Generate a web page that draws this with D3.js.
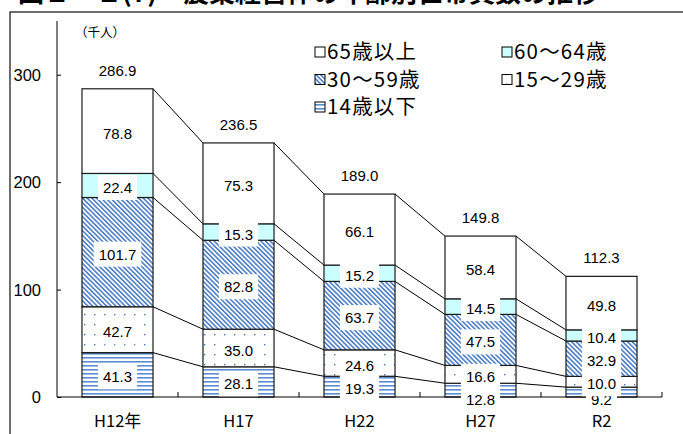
<!DOCTYPE html>
<html>
<head>
<meta charset="utf-8">
<script src="https://cdn.jsdelivr.net/npm/d3@7"></script>
<style>
  body { margin: 0; background: #fff; }
  svg { display: block; }
  .num { font-family: "Liberation Sans", Arial, sans-serif; fill: #000; }
  .jp { font-family: "Noto Sans CJK JP", "Noto Sans", sans-serif; fill: #000; }
</style>
</head>
<body>
<svg id="chart" width="683" height="434"></svg>
<script>
// 年齢別世帯員数（千人）
const years = ['H12年', 'H17', 'H22', 'H27', 'R2'];
const age65over = [78.8, 75.3, 66.1, 58.4, 49.8];
const age60to64 = [22.4, 15.3, 15.2, 14.5, 10.4];
const age30to59 = [101.7, 82.8, 63.7, 47.5, 32.9];
const age15to29 = [42.7, 35.0, 24.6, 16.6, 10.0];
const age14under = [41.3, 28.1, 19.3, 12.8, 9.2];
const totals = [286.9, 236.5, 189.0, 149.8, 112.3];
const yTicks = [0, 100, 200, 300];
const seriesNames = ['14歳以下', '15～29歳', '30～59歳', '60～64歳', '65歳以上'];
const unitLabel = '（千人）';
const title = '図２－１(7)　農業経営体の年齢別世帯員数の推移';

const svg = d3.select('#chart');
const cs = {
  plot: { left: 57, right: 662, top: 21, bottom: 397 },
  barRatio: 0.587,
  blue: '#4a7cc4',
  cyan: '#ccffff',
};

// rows for d3.stack, bottom to top
const keys = ['a14', 'a15', 'a30', 'a60', 'a65'];
const rows = years.map((yr, i) => ({
  year: yr,
  a14: age14under[i],
  a15: age15to29[i],
  a30: age30to59[i],
  a60: age60to64[i],
  a65: age65over[i],
}));
const stacked = d3.stack().keys(keys)(rows);

const x = d3.scaleBand().domain(years).range([cs.plot.left, cs.plot.right]);
const y = d3.scaleLinear().domain([0, 350]).range([cs.plot.bottom, cs.plot.top]);
const barW = x.bandwidth() * cs.barRatio;
const barX = yr => x(yr) + (x.bandwidth() - barW) / 2;

// patterns
const defs = svg.append('defs');
const hatch = defs.append('pattern').attr('id', 'hatch')
  .attr('patternUnits', 'userSpaceOnUse').attr('width', 3.3).attr('height', 3.3)
  .attr('patternTransform', 'rotate(-45)');
hatch.append('rect').attr('width', 3.3).attr('height', 3.3).attr('fill', '#fff');
hatch.append('rect').attr('width', 1.55).attr('height', 3.3).attr('fill', cs.blue);

const stripes = defs.append('pattern').attr('id', 'stripes')
  .attr('patternUnits', 'userSpaceOnUse').attr('width', 4).attr('height', 4);
stripes.append('rect').attr('width', 4).attr('height', 4).attr('fill', '#fff');
stripes.append('rect').attr('y', 1).attr('width', 4).attr('height', 1.6).attr('fill', '#5b8bd0');

const dots = defs.append('pattern').attr('id', 'dots')
  .attr('patternUnits', 'userSpaceOnUse').attr('width', 10).attr('height', 10);
dots.append('rect').attr('width', 10).attr('height', 10).attr('fill', '#fff');
dots.append('rect').attr('x', 4).attr('y', 4).attr('width', 1.4).attr('height', 1.4).attr('fill', cs.blue);

const fills = {
  a14: 'url(#stripes)', a15: 'url(#dots)', a30: 'url(#hatch)', a60: cs.cyan, a65: '#fff',
};

// title (cut off at the top edge, as in the source)
svg.append('text').attr('class', 'jp')
  .attr('x', 18).attr('y', 2)
  .attr('font-size', 26).attr('font-weight', 'bold')
  .text(title);

// outer frame
svg.append('rect')
  .attr('x', 10).attr('y', 12).attr('width', 700).attr('height', 460)
  .attr('fill', 'none').attr('stroke', '#222').attr('stroke-width', 1.3);

// connector lines between neighbouring bars
const tops = stacked.map(s => s.map(d => d[1]));
tops.forEach((vals) => {
  for (let i = 0; i < years.length - 1; i++) {
    svg.append('line')
      .attr('x1', barX(years[i]) + barW).attr('y1', y(vals[i]))
      .attr('x2', barX(years[i + 1])).attr('y2', y(vals[i + 1]))
      .attr('stroke', '#000').attr('stroke-width', 1);
  }
});

// bars
svg.append('g').selectAll('g')
  .data(stacked)
  .join('g')
  .selectAll('rect')
  .data(s => s.map(d => Object.assign({ key: s.key }, d)))
  .join('rect')
  .attr('x', d => barX(d.data.year))
  .attr('y', d => y(d[1]))
  .attr('width', barW)
  .attr('height', d => y(d[0]) - y(d[1]))
  .attr('fill', d => fills[d.key])
  .attr('stroke', '#1a1a1a')
  .attr('stroke-width', 1.2);

// axes
const yAxis = d3.axisRight(y).tickValues(yTicks).tickSize(4).tickFormat('');
const yg = svg.append('g').attr('transform', `translate(${cs.plot.left},0)`).call(yAxis);
yg.select('.domain').attr('d', `M0,${cs.plot.top}V${cs.plot.bottom}`).attr('stroke', '#000');
yg.selectAll('.tick line').attr('stroke', '#000');

svg.append('g').selectAll('text')
  .data(yTicks)
  .join('text')
  .attr('class', 'num')
  .attr('x', 41).attr('y', d => y(d) + 6)
  .attr('text-anchor', 'end')
  .attr('font-size', 16.5)
  .text(d => d);

const xg = svg.append('g');
xg.append('line')
  .attr('x1', cs.plot.left).attr('x2', cs.plot.right)
  .attr('y1', y(0)).attr('y2', y(0))
  .attr('stroke', '#000');
xg.selectAll('.xt')
  .data(years)
  .join('line')
  .attr('class', 'xt')
  .attr('x1', d => x(d) + x.bandwidth()).attr('x2', d => x(d) + x.bandwidth())
  .attr('y1', y(0)).attr('y2', y(0) - 5)
  .attr('stroke', '#000');
xg.selectAll('text')
  .data(years)
  .join('text')
  .attr('class', 'jp')
  .attr('x', d => x(d) + x.bandwidth() / 2)
  .attr('y', 427)
  .attr('text-anchor', 'middle')
  .attr('font-size', 16.5)
  .text(d => d);

svg.append('text').attr('class', 'jp')
  .attr('x', 75).attr('y', 37)
  .attr('font-size', 12.5)
  .text(unitLabel);

// value labels with white boxes
const labelG = svg.append('g');
stacked.forEach((s) => {
  s.forEach((d) => {
    const v = d[1] - d[0];
    let cy = (y(d[0]) + y(d[1])) / 2 + 2;
    if (s.key === 'a14' && y(d[0]) - y(d[1]) < 15) cy = y(0) + 2;
    const g = labelG.append('g');
    const t = g.append('text')
      .attr('class', 'num')
      .attr('x', x(d.data.year) + x.bandwidth() / 2)
      .attr('y', cy + 5.5)
      .attr('text-anchor', 'middle')
      .attr('font-size', 15)
      .text(v.toFixed(1));
    const w = t.node().getComputedTextLength() + 10;
    g.insert('rect', 'text')
      .attr('x', x(d.data.year) + x.bandwidth() / 2 - w / 2)
      .attr('y', cy - 12.5)
      .attr('width', w).attr('height', 25)
      .attr('fill', '#fff');
  });
});

// totals above bars
svg.append('g').selectAll('text')
  .data(totals)
  .join('text')
  .attr('class', 'num')
  .attr('x', (d, i) => x(years[i]) + x.bandwidth() / 2)
  .attr('y', d => y(d) - 13)
  .attr('text-anchor', 'middle')
  .attr('font-size', 15)
  .text(d => d.toFixed(1));

// legend
const legendItems = [
  { key: 'a65', name: seriesNames[4], col: 0, row: 0 },
  { key: 'a60', name: seriesNames[3], col: 1, row: 0 },
  { key: 'a30', name: seriesNames[2], col: 0, row: 1 },
  { key: 'a15', name: seriesNames[1], col: 1, row: 1 },
  { key: 'a14', name: seriesNames[0], col: 0, row: 2 },
];
const lg = svg.append('g').selectAll('g')
  .data(legendItems)
  .join('g')
  .attr('transform', d => `translate(${315 + d.col * 187},${52 + d.row * 27.5})`);
lg.append('rect')
  .attr('x', 0).attr('y', -5).attr('width', 10).attr('height', 10)
  .attr('fill', d => fills[d.key])
  .attr('stroke', '#000').attr('stroke-width', 1);
lg.append('text')
  .attr('class', 'jp')
  .attr('x', 12).attr('y', 7)
  .attr('font-size', 20.5)
  .attr('letter-spacing', 1.2)
  .text(d => d.name);
</script>
</body>
</html>
